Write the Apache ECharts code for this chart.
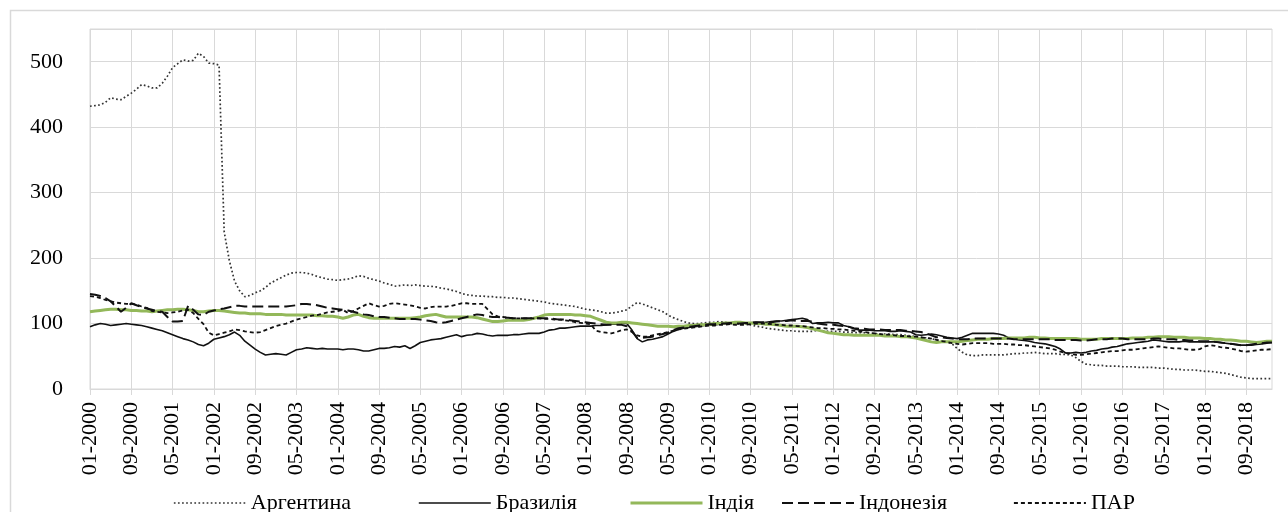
<!DOCTYPE html>
<html><head><meta charset="utf-8">
<script src="https://cdn.jsdelivr.net/npm/echarts@6/dist/echarts.min.js"></script>
<style>html,body{margin:0;padding:0;background:#fff;}#c{width:1288px;height:512px;}</style>
</head><body><div id="c"></div>
<script>
const seriesNames = ['Аргентина', 'Бразилія', 'Індія', 'Індонезія', 'ПАР'];
// monthly categories 01-2000 … 02-2019
const categories = [];
for (let y = 2000; y <= 2019; y++) {
  for (let m = 1; m <= 12; m++) {
    if (y === 2019 && m > 2) break;
    categories.push(String(m).padStart(2, '0') + '-' + y);
  }
}
const yTicks = [0, 100, 200, 300, 400, 500];

const argentina = [
  432,433,434,438,445,443,442,447,452,458,465,463,
  460,460,467,478,491,497,503,501,502,513,508,498,
  497,495,240,196,165,150,141,143,147,150,155,162,
  166,170,174,177,178,178,177,175,172,170,168,167,
  166,167,168,170,173,172,169,167,165,162,160,157,
  158,159,158,159,158,157,157,156,154,153,151,149,
  146,144,143,142,142,141,141,140,140,139,139,138,
  137,136,135,134,133,131,130,129,128,127,126,124,
  122,121,120,118,116,116,117,119,121,127,132,130,
  127,124,121,118,113,109,106,103,101,100,100,101,
  102,102,103,102,101,100,99,99,98,96,95,93,
  92,91,90,89,89,88,88,88,88,90,89,88,
  88,88,87,87,86,86,86,85,85,84,84,84,
  83,83,82,81,80,79,78,77,75,73,72,69,
  62,56,52,51,51,52,52,52,52,52,53,54,
  54,55,55,56,55,54,54,54,53,53,52,48,
  42,38,37,36,36,35,35,35,34,34,34,33,
  33,33,33,32,32,31,30,30,29,29,29,28,
  27,27,26,25,24,22,20,18,17,16,16,16,
  16,16
];
const brazil = [
  95,98,100,99,97,98,99,100,99,98,97,95,
  93,91,89,86,83,80,77,75,72,68,66,70,
  76,78,80,83,87,82,73,67,61,56,52,53,
  54,53,52,56,60,61,63,62,61,62,61,61,
  61,60,61,61,60,58,58,60,62,62,63,65,
  64,66,62,66,71,73,75,76,77,79,81,83,
  80,82,83,85,84,82,81,82,82,82,83,83,
  84,85,85,85,87,90,91,93,93,94,95,96,
  96,96,97,97,98,99,99,100,100,90,77,72,
  75,76,78,80,84,88,91,93,94,95,96,97,
  98,98,99,100,100,100,100,101,101,102,101,102,
  103,104,104,105,106,107,108,106,100,101,101,102,
  101,101,97,95,92,90,90,90,89,89,89,88,
  88,89,88,87,83,82,83,84,83,81,79,78,
  77,79,82,85,85,85,85,85,84,82,78,77,
  75,74,73,71,70,69,67,65,61,55,55,56,
  55,56,58,59,61,62,64,65,67,69,70,71,
  72,73,75,74,73,72,72,72,73,72,72,72,
  72,72,72,71,70,69,68,67,67,67,68,69,
  70,71
];
const india = [
  118,119,120,121,122,122,121,121,120,120,119,119,
  118,119,120,121,121,122,122,121,120,118,118,119,
  120,120,119,118,117,116,116,115,115,115,114,114,
  114,114,113,113,113,113,113,113,112,112,111,111,
  110,108,110,113,114,111,109,108,108,108,108,108,
  108,108,108,109,110,112,113,114,112,110,110,110,
  110,110,110,109,107,105,103,103,104,105,105,105,
  105,106,108,110,113,114,114,114,114,114,113,113,
  112,111,108,105,102,101,101,102,102,101,100,99,
  98,97,96,96,96,95,96,96,97,97,98,98,
  99,100,100,101,101,102,102,101,101,100,100,99,
  99,98,97,96,96,96,95,94,92,90,88,86,
  85,84,83,83,82,82,82,82,82,82,81,81,
  81,80,80,79,78,76,74,72,71,72,72,72,
  72,73,74,75,76,76,76,77,77,77,78,78,
  78,78,79,79,78,78,77,77,77,77,77,77,
  76,76,76,76,77,77,77,77,77,77,78,78,
  78,79,79,80,80,80,79,79,79,78,78,78,
  77,77,76,76,75,75,74,73,73,72,71,72,
  73,73
];
const indonesia = [
  145,144,142,139,134,126,118,124,131,128,125,123,
  121,119,118,110,103,103,104,127,121,114,113,118,
  120,122,123,125,127,127,126,126,126,126,126,126,
  126,126,126,127,128,130,130,129,128,126,124,123,
  122,121,120,118,116,114,113,111,110,110,109,108,
  107,107,107,107,106,105,104,102,101,102,104,106,
  108,110,112,114,113,111,110,110,109,109,108,108,
  108,108,108,108,108,108,107,106,106,105,104,103,
  102,101,100,99,98,98,98,98,96,88,78,78,
  79,80,82,84,86,90,93,94,95,96,97,98,
  99,99,100,100,101,100,100,101,101,102,102,102,
  102,103,104,104,105,104,104,104,103,100,99,98,
  98,97,96,95,93,92,92,91,91,91,90,90,
  90,90,89,89,88,87,85,82,79,79,78,77,
  76,76,76,77,77,77,77,77,77,77,77,76,
  76,76,76,76,76,76,76,75,75,75,75,75,
  74,74,75,76,76,76,77,77,77,76,76,76,
  76,76,77,77,76,76,76,75,75,74,74,73,
  73,73,72,71,70,69,68,67,67,68,69,70,
  71,71
];
const par = [
  142,141,139,136,134,132,131,130,130,129,126,124,
  119,118,117,116,117,118,120,121,116,107,99,86,
  82,84,86,88,91,90,88,87,86,87,90,93,
  96,98,100,103,106,108,110,112,113,115,117,118,
  119,121,116,119,123,127,131,128,126,127,130,131,
  130,129,128,126,124,123,125,126,126,126,127,129,
  131,131,130,130,130,122,114,111,110,109,108,108,
  108,108,108,108,107,107,106,106,105,104,102,101,
  100,99,89,87,86,85,87,90,91,87,82,80,
  80,82,84,85,87,89,91,92,93,94,95,96,
  97,97,98,98,99,98,98,98,99,100,100,100,
  99,98,98,97,97,96,96,95,94,93,93,92,
  92,91,91,90,89,88,87,86,85,84,83,83,
  82,81,81,80,80,79,78,77,75,73,72,70,
  69,68,69,70,70,70,70,69,69,69,68,68,
  67,67,66,65,64,63,62,60,57,55,54,52,
  52,53,54,55,56,57,58,58,59,60,60,61,
  62,63,64,65,64,63,62,62,61,60,60,61,
  65,67,66,64,63,62,60,58,57,58,59,60,
  60,61
];

const values = [argentina, brazil, india, indonesia, par];
const lineStyles = [
  { color: '#333333', width: 1.7, type: [1.7, 2.4] },
  { color: '#111111', width: 1.6, type: 'solid' },
  { color: '#93b85a', width: 3, type: 'solid' },
  { color: '#111111', width: 2, type: [11, 5] },
  { color: '#111111', width: 1.8, type: [4, 3] }
];
const legendLeft = [168, 413, 624, 776, 1008];
const FONT = 'Liberation Serif';

const chart = echarts.init(document.getElementById('c'));
chart.setOption({
  animation: false,
  backgroundColor: '#ffffff',
  graphic: [{
    type: 'rect', left: 8, top: 8, z: -10,
    shape: { width: 1300, height: 520 },
    style: { fill: 'none', stroke: '#d9d9d9', lineWidth: 1.5 }
  }],
  grid: { left: 90, right: 16, top: 29, bottom: 123, show: true, borderColor: '#d9d9d9', borderWidth: 1 },
  legend: seriesNames.map((n, i) => ({
    data: [n], left: legendLeft[i], top: 487,
    itemWidth: 72, itemHeight: 14, itemGap: 6,
    textStyle: { fontFamily: FONT, fontSize: 22, color: '#000' },
    lineStyle: { width: lineStyles[i].width },
    itemStyle: { opacity: 0 },
    selectedMode: false
  })),
  xAxis: {
    type: 'category', boundaryGap: false, data: categories,
    axisLine: { lineStyle: { color: '#d9d9d9', width: 1 } },
    axisTick: { show: true, interval: 7, length: 6, lineStyle: { color: '#d9d9d9' } },
    axisLabel: { interval: 7, rotate: 90, margin: 13, fontFamily: FONT, fontSize: 22, color: '#000' },
    splitLine: { show: true, interval: 7, lineStyle: { color: '#d9d9d9', width: 1 } }
  },
  yAxis: {
    type: 'value', min: 0, max: 550, interval: 100,
    axisLine: { show: false }, axisTick: { show: false },
    axisLabel: {
      margin: 27, fontFamily: FONT, fontSize: 22, color: '#000',
      formatter: v => (yTicks.indexOf(v) >= 0 ? String(v) : '')
    },
    splitLine: { lineStyle: { color: '#d9d9d9', width: 1 } }
  },
  series: seriesNames.map((n, i) => ({
    name: n, type: 'line', data: values[i], symbol: 'none', showSymbol: false,
    lineStyle: lineStyles[i], itemStyle: { color: lineStyles[i].color },
    emphasis: { disabled: true }
  }))
});
</script>
</body></html>
